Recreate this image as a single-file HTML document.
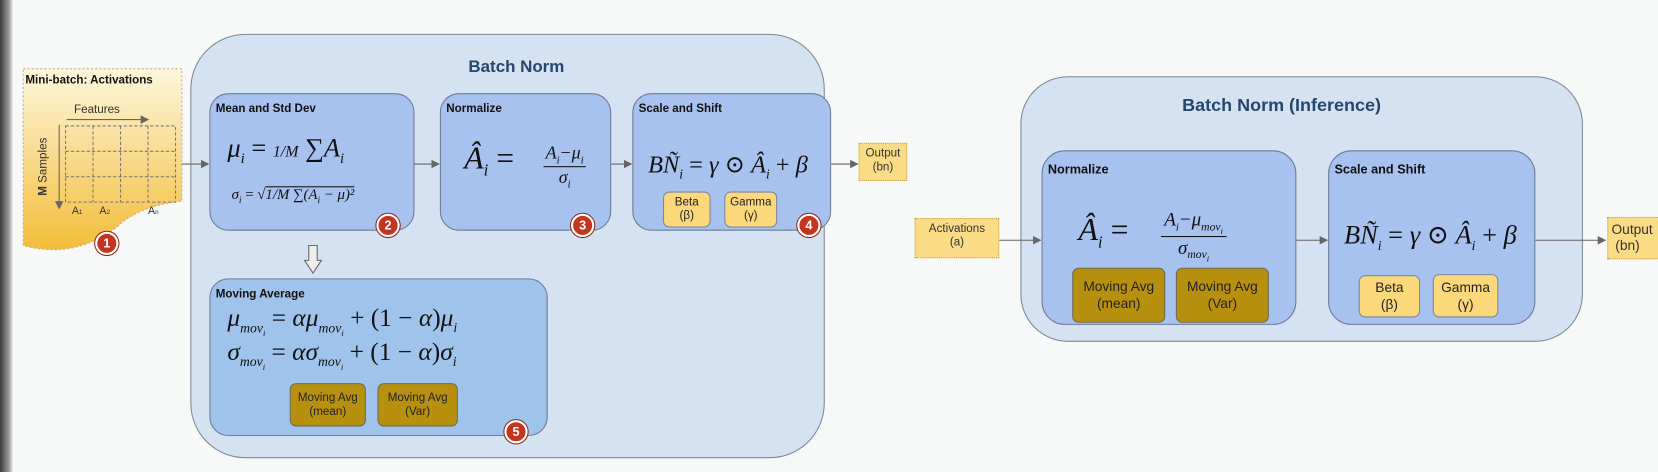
<!DOCTYPE html>
<html><head><meta charset="utf-8">
<style>
html,body{margin:0;padding:0;width:1658px;height:472px;overflow:hidden;background:#f7f8f8;}
#wrap{position:absolute;left:0;top:0;width:1568px;height:446px;transform:scale(1.05740,1.05830);transform-origin:0 0;font-family:"Liberation Sans",sans-serif;}
.abs{position:absolute;box-sizing:border-box;}
.big{background:#d5e2f1;border:1.5px solid #7c8896;border-radius:52px;}
.box{background:#a7c2ef;border:1.5px solid #6d7b94;border-radius:18px;}
.lbl{position:absolute;left:5px;top:8px;font-weight:bold;font-size:11px;color:#111;}
.title{position:absolute;font-weight:bold;font-size:16px;color:#25476e;}
.badge{position:absolute;width:22px;height:22px;border-radius:50%;background:#c4351f;border:2px solid #fff;box-sizing:border-box;color:#fff;font-weight:bold;font-size:12px;text-align:center;line-height:18px;box-shadow:0 0 0 1px #8a2a1a;}
.pill{position:absolute;border-radius:6px;font-size:11px;text-align:center;color:#222;box-sizing:border-box;display:flex;align-items:center;justify-content:center;line-height:13px;}
.gold{background:#b8900f;border:1.5px solid #6d6a50;}
.yel{background:#fbd97a;border:1.5px solid #7b86a0;}
.math{position:absolute;font-family:"Liberation Serif","DejaVu Serif",serif;font-style:italic;color:#111;white-space:nowrap;}
.tag{position:absolute;background:#fbdc86;border:1px dotted #c9a54a;font-size:11px;color:#333;text-align:center;line-height:13px;box-sizing:border-box;padding-top:3px;}
#arrows{z-index:5;pointer-events:none;}
</style></head><body>
<div id="wrap">
<div class="abs" style="left:0;top:0;width:12px;height:446px;background:linear-gradient(90deg,#3a3a3a,#9a9a9a 70%,#e8e8e8);"></div>

<svg class="abs" style="left:0;top:0" width="1568" height="446">
<defs><marker id="ah2" markerWidth="8" markerHeight="8" refX="7" refY="4" orient="auto"><path d="M0,0 L8,4 L0,8 z" fill="#666"/></marker>
<linearGradient id="yg" x1="0" y1="0" x2="0" y2="1"><stop offset="0" stop-color="#fdf6dc"/><stop offset="1" stop-color="#f3bd3a"/></linearGradient></defs>
<path d="M22,65 L172,65 L172,190 Q130,195 110,215 Q70,245 22,232 Z" fill="url(#yg)" stroke="#c9b27a" stroke-dasharray="2,2"/>
<g stroke="#666" fill="none">
<line x1="63" y1="113" x2="140" y2="113" marker-end="url(#ah2)"/>
<line x1="56" y1="118" x2="56" y2="197" marker-end="url(#ah2)"/>
</g>
<g stroke="#777" stroke-dasharray="3,2" fill="none">
<rect x="62" y="119" width="104" height="72"/>
<line x1="88" y1="119" x2="88" y2="191"/><line x1="114" y1="119" x2="114" y2="191"/><line x1="140" y1="119" x2="140" y2="191"/>
<line x1="62" y1="143" x2="166" y2="143"/><line x1="62" y1="167" x2="166" y2="167"/>
</g>
<text x="70" y="107" font-size="11" fill="#333" font-family="Liberation Sans">Features</text>
<text transform="translate(44,185) rotate(-90)" font-size="11" fill="#333" font-family="Liberation Sans"><tspan font-weight="bold">M</tspan> Samples</text>
<text x="68" y="202" font-size="10" fill="#333" font-family="Liberation Sans">A<tspan font-size="6">1</tspan></text>
<text x="94" y="202" font-size="10" fill="#333" font-family="Liberation Sans">A<tspan font-size="6">2</tspan></text>
<text x="140" y="202" font-size="10" fill="#333" font-family="Liberation Sans">A<tspan font-size="6">n</tspan></text>
<text x="24" y="79" font-size="11" font-weight="bold" fill="#111" font-family="Liberation Sans">Mini-batch: Activations</text>
</svg>

<div class="abs big" style="left:180px;top:32px;width:600px;height:401px;">
<div class="title" style="left:262px;top:22px;">Batch Norm</div></div>

<div class="abs box" style="left:198px;top:88px;width:194px;height:130px;">
<div class="lbl">Mean and Std Dev</div>
<div class="math" style="left:16px;top:38px;font-size:25px;">μ<sub style="font-size:14px">i</sub> <span style="font-style:normal">=</span> <span style="font-size:15px">1/M</span> <span style="font-style:normal">∑</span>A<sub style="font-size:14px">i</sub></div>
<div class="math" style="left:20px;top:88px;font-size:14px;">σ<sub style="font-size:9px">i</sub> <span style="font-style:normal">= √</span><span style="border-top:1px solid #111;">1/M ∑(A<sub style="font-size:9px">i</sub> − μ)²</span></div>
</div>
<div class="abs box" style="left:416px;top:88px;width:162px;height:130px;">
<div class="lbl">Normalize</div>
<div class="math" style="left:22px;top:44px;font-size:30px;">Â<sub style="font-size:16px">i</sub> <span style="font-style:normal">=</span></div>
<div class="math" style="left:97px;top:46px;font-size:17px;text-align:center;"><div style="border-bottom:1.5px solid #111;padding:0 2px;">A<sub style="font-size:10px">i</sub>−μ<sub style="font-size:10px">i</sub></div><div>σ<sub style="font-size:10px">i</sub></div></div>
</div>
<div class="abs box" style="left:598px;top:88px;width:188px;height:130px;">
<div class="lbl">Scale and Shift</div>
<div class="math" style="left:14px;top:54px;font-size:23px;">BÑ<sub style="font-size:13px">i</sub> <span style="font-style:normal">= </span>γ <span style="font-style:normal">⊙</span> Â<sub style="font-size:13px">i</sub> <span style="font-style:normal">+</span> β</div>
</div>
<div class="pill yel" style="left:627px;top:181px;width:45px;height:34px;">Beta<br>(β)</div>
<div class="pill yel" style="left:685px;top:181px;width:50px;height:34px;">Gamma<br>(γ)</div>

<div class="tag" style="left:812px;top:135px;width:46px;height:36px;">Output<br>(bn)</div>

<svg class="abs" style="left:287px;top:231px" width="18" height="28"><path d="M5,1 L13,1 L13,15 L17,15 L9,27 L1,15 L5,15 Z" fill="#eee" stroke="#666"/></svg>

<div class="abs box" style="left:198px;top:263px;width:320px;height:149px;background:#9fc3ea;">
<div class="lbl">Moving Average</div>
<div class="math" style="left:16px;top:24px;font-size:24px;">μ<sub style="font-size:13px">mov<sub style="font-size:8px">i</sub></sub> <span style="font-style:normal">=</span> αμ<sub style="font-size:13px">mov<sub style="font-size:8px">i</sub></sub> <span style="font-style:normal">+ (1 −</span> α<span style="font-style:normal">)</span>μ<sub style="font-size:13px">i</sub></div>
<div class="math" style="left:16px;top:56px;font-size:24px;">σ<sub style="font-size:13px">mov<sub style="font-size:8px">i</sub></sub> <span style="font-style:normal">=</span> ασ<sub style="font-size:13px">mov<sub style="font-size:8px">i</sub></sub> <span style="font-style:normal">+ (1 −</span> α<span style="font-style:normal">)</span>σ<sub style="font-size:13px">i</sub></div>
</div>
<div class="pill gold" style="left:274px;top:362px;width:72px;height:41px;">Moving Avg<br>(mean)</div>
<div class="pill gold" style="left:357px;top:362px;width:76px;height:41px;">Moving Avg<br>(Var)</div>

<div class="badge" style="left:90px;top:219px;">1</div>
<div class="badge" style="left:356px;top:202px;">2</div>
<div class="badge" style="left:540px;top:202px;">3</div>
<div class="badge" style="left:754px;top:202px;">4</div>
<div class="badge" style="left:477px;top:397px;">5</div>

<!-- inference -->
<div class="tag" style="left:865px;top:206px;width:80px;height:38px;">Activations<br>(a)</div>
<div class="abs big" style="left:965px;top:72px;width:532px;height:251px;border-radius:45px;">
<div class="title" style="left:152px;top:17px;font-size:17px;">Batch Norm (Inference)</div></div>
<div class="abs box" style="left:985px;top:142px;width:241px;height:165px;border-radius:22px;">
<div class="lbl" style="font-size:12px;top:10px;">Normalize</div>
<div class="math" style="left:34px;top:58px;font-size:30px;">Â<sub style="font-size:16px">i</sub> <span style="font-style:normal">=</span></div>
<div class="math" style="left:112px;top:54px;font-size:18px;text-align:center;"><div style="border-bottom:1.5px solid #111;padding:0 3px;">A<sub style="font-size:10px">i</sub>−μ<sub style="font-size:11px">mov<sub style="font-size:8px">i</sub></sub></div><div>σ<sub style="font-size:11px">mov<sub style="font-size:8px">i</sub></sub></div></div>
</div>
<div class="pill gold" style="left:1014px;top:253px;width:88px;height:52px;font-size:13px;line-height:16px;">Moving Avg<br>(mean)</div>
<div class="pill gold" style="left:1112px;top:253px;width:88px;height:52px;font-size:13px;line-height:16px;">Moving Avg<br>(Var)</div>
<div class="abs box" style="left:1256px;top:142px;width:196px;height:165px;border-radius:22px;">
<div class="lbl" style="font-size:12px;top:10px;">Scale and Shift</div>
<div class="math" style="left:14px;top:64px;font-size:25px;">BÑ<sub style="font-size:13px">i</sub> <span style="font-style:normal">= </span>γ <span style="font-style:normal">⊙</span> Â<sub style="font-size:13px">i</sub> <span style="font-style:normal">+</span> β</div>
</div>
<div class="pill yel" style="left:1285px;top:260px;width:58px;height:40px;font-size:13px;line-height:16px;">Beta<br>(β)</div>
<div class="pill yel" style="left:1355px;top:259px;width:62px;height:41px;font-size:13px;line-height:16px;">Gamma<br>(γ)</div>
<div class="tag" style="left:1520px;top:205px;width:60px;height:40px;font-size:13px;line-height:15px;text-align:left;padding-left:3px;">Output<br>&nbsp;(bn)</div>

<svg id="arrows" class="abs" style="left:0;top:0" width="1568" height="446">
<defs><marker id="ah" markerWidth="8" markerHeight="8" refX="7" refY="4" orient="auto"><path d="M0,0 L8,4 L0,8 z" fill="#666"/></marker></defs>
<g stroke="#666" fill="none">
<line x1="172" y1="155" x2="197" y2="155" marker-end="url(#ah)"/>
<line x1="392" y1="155" x2="415" y2="155" marker-end="url(#ah)"/>
<line x1="578" y1="155" x2="597" y2="155" marker-end="url(#ah)"/>
<line x1="786" y1="155" x2="811" y2="155" marker-end="url(#ah)"/>
<line x1="945" y1="227" x2="984" y2="227" marker-end="url(#ah)"/>
<line x1="1226" y1="227" x2="1255" y2="227" marker-end="url(#ah)"/>
<line x1="1452" y1="227" x2="1518" y2="227" marker-end="url(#ah)"/>
</g>
</svg>
</div>
</body></html>
